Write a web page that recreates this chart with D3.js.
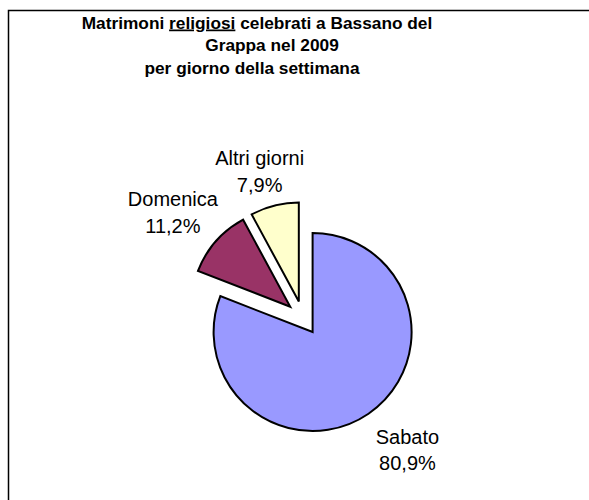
<!DOCTYPE html>
<html>
<head>
  <meta charset="utf-8">
  <title>Matrimoni religiosi</title>
  <script src="https://cdn.jsdelivr.net/npm/d3@7/dist/d3.min.js"></script>
  <style>
    body { margin: 0; background: #fff; }
    svg { display: block; }
    text { font-family: "Liberation Sans", Arial, sans-serif; fill: #000; }
  </style>
</head>
<body>
  <svg width="589" height="500"></svg>

  <script>
    // dati
    const categories = ["Sabato", "Domenica", "Altri giorni"];
    const values = [80.9, 11.2, 7.9];
    const labels = ["80,9%", "11,2%", "7,9%"];
    const colors = ["#9999ff", "#993366", "#ffffcc"];

    const data = categories.map((c, i) => ({ name: c, value: values[i], label: labels[i], color: colors[i] }));

    const svg = d3.select("svg");

    // cornice (solo bordo sinistro e superiore visibili)
    svg.append("rect")
      .attr("x", 8.5).attr("y", 10.5)
      .attr("width", 700).attr("height", 600)
      .attr("fill", "none")
      .attr("stroke", "#000")
      .attr("stroke-width", 1.5);

    // titolo
    const title = svg.append("g").style("font-weight", "bold").style("font-size", "17.3px");
    const t1 = title.append("text").attr("x", 257).attr("y", 28.5).attr("text-anchor", "middle");
    t1.append("tspan").text("Matrimoni ");
    t1.append("tspan").style("text-decoration", "underline").text("religiosi");
    t1.append("tspan").text(" celebrati a Bassano del");
    title.append("text").attr("x", 272).attr("y", 51).attr("text-anchor", "middle").text("Grappa nel 2009");
    title.append("text").attr("x", 252).attr("y", 73.5).attr("text-anchor", "middle").text("per giorno della settimana");

    // torta
    const cx = 303, cy = 318;
    const radius = 99;
    const explode = 17;

    const pie = d3.pie().sort(null).value(d => d.value);
    const arc = d3.arc().innerRadius(0).outerRadius(radius);
    const arcs = pie(data);

    const g = svg.append("g").attr("transform", `translate(${cx},${cy})`);

    const mid = d => (d.startAngle + d.endAngle) / 2;
    const dir = d => [Math.sin(mid(d)), -Math.cos(mid(d))];

    g.selectAll("path")
      .data(arcs)
      .join("path")
      .attr("transform", d => {
        const [dx, dy] = dir(d);
        return `translate(${dx * explode},${dy * explode})`;
      })
      .attr("d", arc)
      .attr("fill", d => d.data.color)
      .attr("stroke", "#000")
      .attr("stroke-width", 2)
      .attr("stroke-linejoin", "miter");

    // etichette
    const fs = 20, lh = 26.5;
    const pad = 16;
    // piccoli aggiustamenti di posizione delle etichette (come nell'originale)
    const nudge = [[12, 3], [3, -2], [0, 5]];

    const lab = g.selectAll("g.lab")
      .data(arcs)
      .join("g")
      .attr("class", "lab")
      .style("font-size", fs + "px");

    lab.each(function(d, i) {
      const el = d3.select(this);
      const t = el.append("text").attr("text-anchor", "middle");
      t.append("tspan").attr("x", 0).attr("y", 0).text(d.data.name);
      t.append("tspan").attr("x", 0).attr("y", lh).text(d.data.label);
      const bb = t.node().getBBox();
      const [dx, dy] = dir(d);
      const r = radius + explode + pad;
      const bx = dx * r + dx * bb.width / 2 + nudge[i][0];
      const by = dy * r + dy * bb.height / 2 + nudge[i][1];
      el.attr("transform", `translate(${bx},${by - (bb.y + bb.height / 2)})`);
    });
  </script>
</body>
</html>
